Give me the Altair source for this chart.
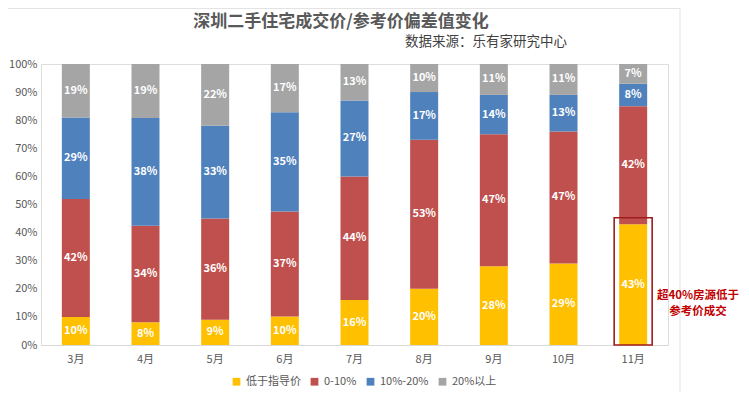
import altair as alt
import pandas as pd

months = ["3月", "4月", "5月", "6月", "7月", "8月", "9月", "10月", "11月"]
series = ["低于指导价", "0-10%", "10%-20%", "20%以上"]
below = [10, 8, 9, 10, 16, 20, 28, 29, 43]
r0_10 = [42, 34, 36, 37, 44, 53, 47, 47, 42]
r10_20 = [29, 38, 33, 35, 27, 17, 14, 13, 8]
r20up = [19, 19, 22, 17, 13, 10, 11, 11, 7]
y_ticks = [0, 0.1, 0.2, 0.3, 0.4, 0.5, 0.6, 0.7, 0.8, 0.9, 1.0]
colors = ["#FFC000", "#C0504D", "#4F81BD", "#A5A5A5"]

title_text = "深圳二手住宅成交价/参考价偏差值变化"
source_text = "数据来源：乐有家研究中心"
note_text = ["超40%房源低于", "参考价成交"]
note_month = "11月"
note_top = 0.453

rows = []
for vals, s_idx in zip([below, r0_10, r10_20, r20up], range(4)):
    for m, v in zip(months, vals):
        rows.append({"month": m, "series": series[s_idx], "order": s_idx, "value": v,
                     "label": f"{v}%"})
df = pd.DataFrame(rows)

FONT = "Noto Sans CJK SC"
W, H = 627, 281

base = alt.Chart(df).transform_joinaggregate(
    total="sum(value)", groupby=["month"]
).transform_calculate(
    pct="datum.value / datum.total"
).transform_stack(
    stack="pct", groupby=["month"], as_=["y0", "y1"], sort=[alt.SortField("order", "ascending")]
).transform_calculate(
    mid="(datum.y0 + datum.y1) / 2"
)

x_axis = alt.Axis(labelAngle=0, ticks=False, domainColor="#D9D9D9",
                  labelColor="#595959", labelFontSize=11, labelPadding=8,
                  labelFont=FONT)
x_scale = alt.Scale(domain=months, paddingInner=0, paddingOuter=0)
y_axis = alt.Axis(format=".0%", values=y_ticks, grid=False,
                  domain=False, ticks=False, labelColor="#595959",
                  labelFontSize=11, labelPadding=4, labelFont=FONT,
                  labelOverlap=False)
y_scale = alt.Scale(domain=[0, 1], nice=False)

bars = base.mark_bar(size=28).encode(
    x=alt.X("month:N", sort=months, title=None, scale=x_scale, axis=x_axis),
    y=alt.Y("y0:Q", title=None, scale=y_scale, axis=y_axis),
    y2="y1:Q",
    color=alt.Color("series:N", sort=series,
                    scale=alt.Scale(domain=series, range=colors),
                    legend=alt.Legend(title=None, orient="none", direction="horizontal",
                                      legendX=190, legendY=312, symbolType="square",
                                      symbolSize=60, symbolStrokeWidth=0,
                                      labelColor="#595959", labelFontSize=11,
                                      labelFont=FONT, columnPadding=8)),
)

labels = base.mark_text(color="white", fontWeight="bold", fontSize=11, font=FONT).encode(
    x=alt.X("month:N", sort=months, title=None, scale=x_scale, axis=x_axis),
    y=alt.Y("mid:Q", title=None, scale=y_scale, axis=y_axis),
    text="label:N",
)

box_df = pd.DataFrame({"month": [note_month], "y0": [0.0], "y1": [note_top]})
box = alt.Chart(box_df).mark_bar(size=38, fill=None, fillOpacity=0, stroke="#A01C1C",
                                 strokeWidth=1.6).encode(
    x=alt.X("month:N", sort=months, title=None, scale=x_scale, axis=x_axis),
    y=alt.Y("y0:Q", title=None, scale=y_scale, axis=y_axis),
    y2="y1:Q")

note = alt.Chart(pd.DataFrame({"t": [note_text]})).mark_text(
    color="#C00000", fontWeight="bold", fontSize=11.5, font=FONT, lineHeight=16,
    baseline="middle", align="center").encode(
    x=alt.value(657), y=alt.value(232), text="t")

title = alt.Chart(pd.DataFrame({"t": [title_text]})).mark_text(
    color="#595959", fontSize=17, fontWeight="bold", font=FONT, align="center",
    baseline="middle").encode(
    x=alt.value(300), y=alt.value(-42), text="t")

source = alt.Chart(pd.DataFrame({"t": [source_text]})).mark_text(
    color="#404040", fontSize=13.5, font=FONT, align="right", baseline="middle").encode(
    x=alt.value(526), y=alt.value(-22), text="t")

frame_right = alt.Chart(pd.DataFrame({"a": [0]})).mark_rule(
    stroke="#E3E3E3", strokeWidth=1).encode(
    x=alt.value(639), y=alt.value(-56), y2=alt.value(328))

frame_top = alt.Chart(pd.DataFrame({"a": [0]})).mark_rule(
    stroke="#E3E3E3", strokeWidth=1).encode(
    x=alt.value(-33), x2=alt.value(639), y=alt.value(-55.5))

chart = alt.layer(frame_right, frame_top, bars, labels, box, note, title, source).properties(
    width=W, height=H,
    autosize=alt.AutoSizeParams(type="none"),
    padding={"left": 33, "top": 56, "right": 73, "bottom": 47},
).configure_view(stroke=None).configure(background="white")

chart.save("out.html", embed_options={"renderer": "svg", "actions": False})
